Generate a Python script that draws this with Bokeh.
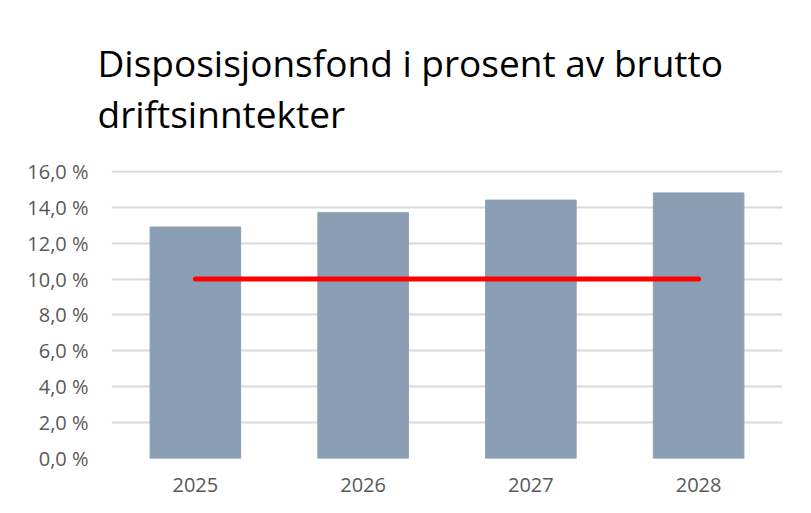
from bokeh.plotting import figure
from bokeh.models import FactorRange, Range1d, FixedTicker, CustomJSTickFormatter, Title
from bokeh.embed import file_html
from bokeh.resources import INLINE

years = ["2025", "2026", "2027", "2028"]
fond_pct = [12.9, 13.7, 14.4, 14.8]
target_pct = [10.0, 10.0, 10.0, 10.0]
y_ticks = [0, 2, 4, 6, 8, 10, 12, 14, 16]
title_lines = ["Disposisjonsfond i prosent av brutto", "driftsinntekter"]

p = figure(width=795, height=497, output_backend="svg", toolbar_location=None,
           x_range=FactorRange(factors=years, range_padding=0),
           y_range=Range1d(0, 16.05),
           min_border_left=111, min_border_right=13, min_border_top=170, min_border_bottom=39)

p.title.visible = False
p.add_layout(Title(text="\n".join(title_lines), text_font="Open Sans", text_font_size="37px",
                   text_font_style="normal", text_color="#000000", text_line_height=1.0,
                   align="left", offset=-14, standoff=63), "above")

p.vbar(x=years, top=fond_pct, width=0.54, fill_color="#8B9FB4", line_color="#8B9FB4")
p.line(x=years, y=target_pct, line_color="#FF0000", line_width=5, line_cap="round")

p.outline_line_color = None
p.background_fill_color = "white"
p.border_fill_color = "white"

p.xgrid.grid_line_color = None
p.ygrid.grid_line_color = "#D9D9D9"
p.ygrid.grid_line_width = 2

p.yaxis.ticker = FixedTicker(ticks=y_ticks)
p.yaxis.formatter = CustomJSTickFormatter(code="return tick.toFixed(1).replace('.', ',') + ' %';")

for ax in (p.xaxis, p.yaxis):
    ax.axis_line_color = None
    ax.major_tick_line_color = None
    ax.minor_tick_line_color = None
    ax.major_tick_out = 0
    ax.major_tick_in = 0
    ax.major_label_text_font = "Open Sans"
    ax.major_label_text_font_size = "20px"
    ax.major_label_text_color = "#595959"

p.xaxis.major_label_standoff = 19
p.yaxis.major_label_standoff = 23

open("out.html", "w").write(file_html(p, INLINE))
